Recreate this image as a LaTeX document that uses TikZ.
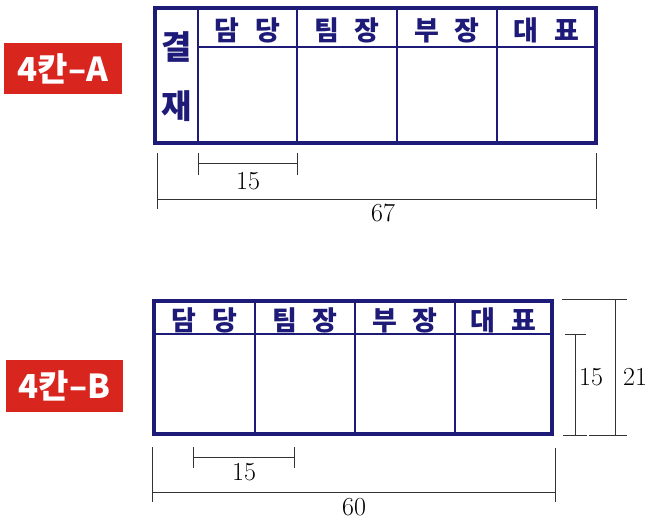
\documentclass[tikz,border=0pt]{standalone}
\usepackage{fontspec}
\newfontfamily\kr{Noto Sans CJK KR}
\definecolor{navy}{HTML}{1E1A78}
\definecolor{tagred}{HTML}{D8251E}
\definecolor{dimc}{HTML}{333333}
\tikzset{
  outer/.style={draw=navy,line width=4pt},
  inner/.style={draw=navy,line width=2.5pt},
  head/.style={text=navy,font=\kr\bfseries\fontsize{27}{27}\selectfont,inner sep=0pt},
  side/.style={text=navy,font=\kr\bfseries\fontsize{33}{33}\selectfont,inner sep=0pt},
  tag/.style={fill=tagred,text=white,font=\kr\bfseries\fontsize{33}{33}\selectfont,inner sep=0pt},
  dimline/.style={draw=dimc,line width=1pt},
  dimtxt/.style={font=\fontsize{26}{26}\selectfont,inner sep=0pt,text=black},
}
\newcommand{\hs}{\hspace{16pt}}
\begin{document}
\begin{tikzpicture}[x=1pt,y=-1pt]
\useasboundingbox (0,0) rectangle (657,527);
% ---------- Table A ----------
\node[tag,minimum width=118pt,minimum height=51pt] (tagA) at (63,68.5) {4칸–A};
\draw[inner] (198,8.5) -- (198,143);
\draw[inner] (297,8.5) -- (297,143);
\draw[inner] (397,8.5) -- (397,143);
\draw[inner] (497,8.5) -- (497,143);
\draw[inner] (198,47) -- (596,47);
\draw[outer] (155,8.5) rectangle (596,143);
\node[side] (kA1) at (177,47) {결};
\node[side] (kA2) at (177,106) {재};
\node[head] (a1) at (247.5,30) {담\hs 당};
\node[head] (a2) at (347,30) {팀\hs 장};
\node[head] (a3) at (447,30) {부\hs 장};
\node[head] (a4) at (546.5,30) {대\hs 표};
% dimensions A
\coordinate (dA1) at (198,164);
\coordinate (dA2) at (297,164);
\draw[dimline] (198,153) -- (198,175);
\draw[dimline] (297,153) -- (297,175);
\draw[dimline] (dA1) -- (dA2);
\node[dimtxt] (tA15) at (248,181) {15};
\coordinate (dA3) at (157,199);
\coordinate (dA4) at (596,199);
\draw[dimline] (157,153) -- (157,209);
\draw[dimline] (596,153) -- (596,209);
\draw[dimline] (dA3) -- (dA4);
\node[dimtxt] (tA67) at (383,213) {67};
% ---------- Table B ----------
\node[tag,minimum width=117pt,minimum height=52pt] (tagB) at (64.5,386) {4칸–B};
\draw[inner] (255,301) -- (255,434);
\draw[inner] (355,301) -- (355,434);
\draw[inner] (455,301) -- (455,434);
\draw[inner] (154,334) -- (552,334);
\draw[outer] (154,301) rectangle (552,434);
\node[head] (b1) at (204.5,320) {담\hs 당};
\node[head] (b2) at (305,320) {팀\hs 장};
\node[head] (b3) at (405,320) {부\hs 장};
\node[head] (b4) at (503.5,320) {대\hs 표};
% dimensions B horizontal
\coordinate (dB1) at (193,457);
\coordinate (dB2) at (294,457);
\draw[dimline] (193,447) -- (193,468);
\draw[dimline] (294,447) -- (294,468);
\draw[dimline] (dB1) -- (dB2);
\node[dimtxt] (tB15) at (244,472) {15};
\coordinate (dB3) at (152,492);
\coordinate (dB4) at (555,492);
\draw[dimline] (152,447) -- (152,502);
\draw[dimline] (555,448) -- (555,502);
\draw[dimline] (dB3) -- (dB4);
\node[dimtxt] (tB60) at (354,507) {60};
% dimensions B vertical
\coordinate (dV1) at (575,334);
\coordinate (dV2) at (575,435);
\draw[dimline] (565,334) -- (586,334);
\draw[dimline] (563,435) -- (587,435);
\draw[dimline] (dV1) -- (dV2);
\node[dimtxt] (tV15) at (591,377) {15};
\coordinate (dV3) at (615,299);
\coordinate (dV4) at (615,435);
\draw[dimline] (562,299) -- (627,299);
\draw[dimline] (589,435) -- (627,435);
\draw[dimline] (dV3) -- (dV4);
\node[dimtxt] (tV21) at (635,377) {21};
\end{tikzpicture}
\end{document}
